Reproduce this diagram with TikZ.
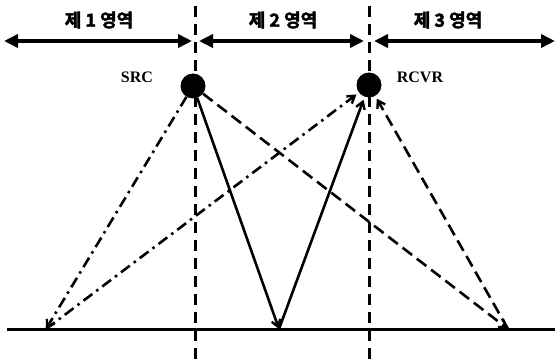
\documentclass[tikz,border=0pt]{standalone}
\usepackage{fontspec}
\setmainfont{Liberation Serif}
\newfontfamily\kor{Noto Sans CJK KR Bold}[FakeBold=2.5]
\usetikzlibrary{arrows.meta}
\begin{document}
\begin{tikzpicture}[x=1pt,y=-1pt,
  region/.style={line width=3.6pt,{Triangle[length=14pt,width=13pt]}-{Triangle[length=14pt,width=13pt]}},
  sep/.style={line width=3pt,dash pattern=on 11pt off 7pt},
  ray/.style={line width=2.6pt,-{Straight Barb[length=7pt,width=9pt,line width=2.4pt]}},
  dd/.style={dash pattern=on 11pt off 5pt on 2.5pt off 5pt},
  ds/.style={dash pattern=on 12pt off 6pt},
  dot/.style={circle,fill=black,minimum size=25pt,inner sep=0pt},
  lab/.style={font=\bfseries\fontsize{16}{16}\selectfont},
  klab/.style={font=\kor\fontsize{18}{18}\selectfont}]
\useasboundingbox (0,0) rectangle (555,361);
% separators
\coordinate (s1t) at (195,6); \coordinate (s1b) at (195,361);
\coordinate (s2t) at (369,6); \coordinate (s2b) at (369,361);
\draw[sep] (s1t) -- (s1b);
\draw[sep] (s2t) -- (s2b);
% region arrows
\coordinate (a0) at (4,41); \coordinate (a1) at (192,41);
\coordinate (a2) at (199,41); \coordinate (a3) at (364,41);
\coordinate (a4) at (374,41); \coordinate (a5) at (555,41);
\draw[region] (a0) -- (a1);
\draw[region] (a2) -- (a3);
\draw[region] (a4) -- (a5);
\node[klab] (r1) at (99,20) {제 1 영역};
\node[klab] (r2) at (283,20) {제 2 영역};
\node[klab] (r3) at (448,20) {제 3 영역};
% ground
\coordinate (g0) at (7,329); \coordinate (g1) at (555,329);
\draw[line width=3pt] (g0) -- (g1);
% src and rcvr
\node[dot] (src) at (193,86) {};
\node[dot] (rcvr) at (369,85) {};
\node[lab] (srcl) at (137,77) {SRC};
\node[lab] (rcvrl) at (420,77) {RCVR};
% reflection points
\coordinate (pl) at (46,329);
\coordinate (pm) at (279,329);
\coordinate (pr) at (508,329);
% rays
\draw[ray,dd] (src) -- (pl);
\draw[ray,dd,shorten >=3pt] (pl) -- (rcvr);
\draw[ray] (src) -- (pm);
\draw[ray,shorten >=3pt] (pm) -- (rcvr);
\draw[ray,ds] (src) -- (pr);
\draw[ray,ds,shorten >=3pt] (pr) -- (rcvr);
\end{tikzpicture}
\end{document}
